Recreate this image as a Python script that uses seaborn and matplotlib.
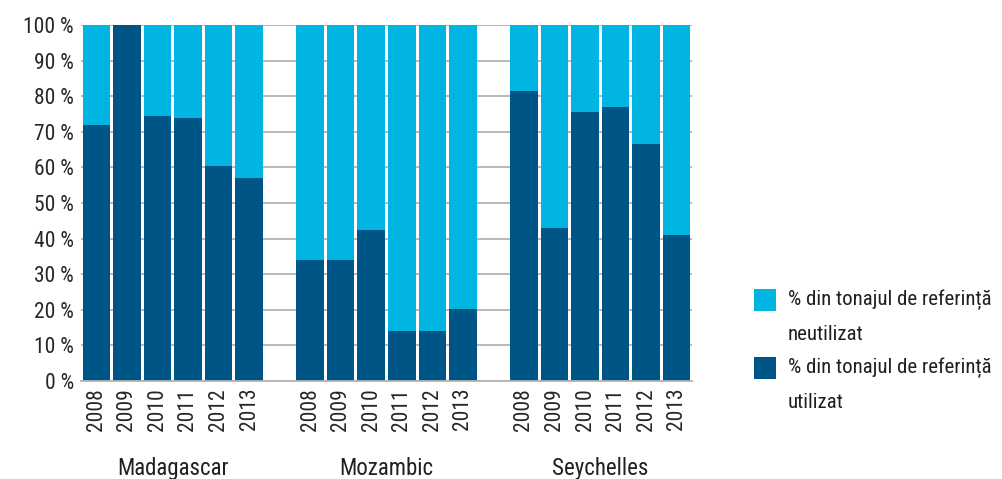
import numpy as np
import pandas as pd
import matplotlib
matplotlib.use("Agg")
import matplotlib.pyplot as plt
import seaborn as sns
from matplotlib.patches import Rectangle
from matplotlib import font_manager

countries = ["Madagascar", "Mozambic", "Seychelles"]
years = ["2008", "2009", "2010", "2011", "2012", "2013"]
used_madagascar = [72, 100, 74.5, 74, 60.5, 57]
used_mozambic = [34, 34, 42.3, 14, 14, 20.3]
used_seychelles = [81.4, 43, 75.7, 77, 66.7, 41.1]
total = [100, 100, 100, 100, 100, 100]
legend_first = ["% din tonajul de referință", "% din tonajul de referință"]
legend_second = ["neutilizat", "utilizat"]
ytick_labels = ["0 %", "10 %", "20 %", "30 %", "40 %", "50 %", "60 %", "70 %", "80 %", "90 %", "100 %"]

c_light = "#00B5E2"
c_dark = "#005587"

sns.set_theme(style="white")
avail = {f.name for f in font_manager.fontManager.ttflist}
candidates = ["Roboto Condensed", "Fira Sans Condensed", "Archivo Narrow", "PT Sans Narrow",
              "Open Sans Condensed", "Liberation Sans Narrow", "Roboto"]
chosen = next((c for c in candidates if c in avail), "DejaVu Sans")
plt.rcParams["font.family"] = [chosen, "DejaVu Sans"]
plt.rcParams["text.color"] = "#231f20"
FS_TICK = 15.5
FS_LAB = 16.5
FS_LEG = 15

rows = []
used_all = [used_madagascar, used_mozambic, used_seychelles]
for gi, (c, used) in enumerate(zip(countries, used_all)):
    for yi, (yr, u, t) in enumerate(zip(years, used, total)):
        rows.append({"country": c, "year": yr, "used": u, "total": t,
                     "pos": gi * (len(years) + 1) + yi})
df = pd.DataFrame(rows)

W, H = 1002, 479
fig = plt.figure(figsize=(W / 100, H / 100), dpi=100)
ax = fig.add_axes([81 / W, 1 - 381 / H, (692 - 81) / W, (381 - 25) / H])

sns.barplot(data=df, x="pos", y="total", native_scale=True, color=c_light,
            width=0.9, saturation=1, linewidth=0, ax=ax, zorder=2)
sns.barplot(data=df, x="pos", y="used", native_scale=True, color=c_dark,
            width=0.9, saturation=1, linewidth=0, ax=ax, zorder=3)

ax.set_xlim(-0.5, df["pos"].max() + 0.5)
ax.set_ylim(0, 100)
ax.set_yticks(np.arange(0, 101, 10))
ax.set_yticklabels(ytick_labels, fontsize=FS_TICK)
ax.yaxis.grid(True, color="#b4b4b4", linewidth=1.3, zorder=0)
ax.set_axisbelow(True)
ax.set_xticks(df["pos"])
ax.set_xticklabels(df["year"], rotation=90, fontsize=FS_TICK)
ax.tick_params(axis="both", length=0, pad=5)
ax.set_xlabel("")
ax.set_ylabel("")
for s in ["left", "right", "top"]:
    ax.spines[s].set_visible(False)
ax.spines["bottom"].set_color("#b4b4b4")
ax.spines["bottom"].set_linewidth(1.3)
ax.spines["bottom"].set_zorder(4)

for gi, c in enumerate(countries):
    sub = df[df["country"] == c]
    ax.text(sub["pos"].mean(), -24.5, c, ha="center", va="center", fontsize=FS_LAB,
            transform=ax.transData, clip_on=False)

# legend (square aligned with first text line, as in the reference)
leg_colors = [c_light, c_dark]
leg_top = [289, 357]
for col, top, l1, l2 in zip(leg_colors, leg_top, legend_first, legend_second):
    fig.patches.append(Rectangle((754 / W, 1 - (top + 22) / H), 22 / W, 22 / H,
                                 transform=fig.transFigure, facecolor=col, edgecolor="none"))
    fig.text(788 / W, 1 - (top + 11) / H, l1, ha="left", va="center", fontsize=FS_LEG)
    fig.text(788 / W, 1 - (top + 45) / H, l2, ha="left", va="center", fontsize=FS_LEG)

fig.savefig("out.png", dpi=100)
